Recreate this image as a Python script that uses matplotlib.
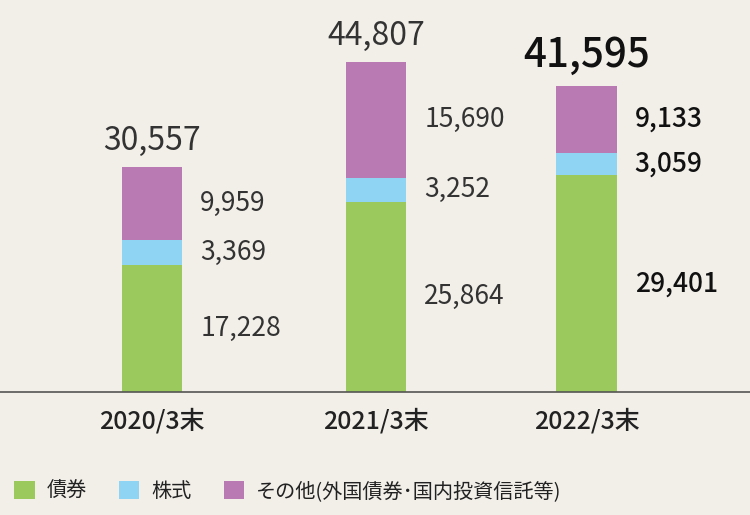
import matplotlib

matplotlib.use("Agg")
import matplotlib.pyplot as plt
from matplotlib.patches import Patch

plt.rcParams["font.family"] = ["Noto Sans CJK JP", "DejaVu Sans"]

# --- data ---
categories = ["2020/3末", "2021/3末", "2022/3末"]
bonds = [17228, 25864, 29401]
stocks = [3369, 3252, 3059]
others = [9959, 15690, 9133]
totals = [30557, 44807, 41595]
series_names = ["債券", "株式", "その他(外国債券･国内投資信託等)"]

BG = "#f2efe9"
COLORS = ["#9cc95e", "#8fd4f2", "#b97ab3"]
TEXT = "#333333"

xpos = [0, 1, 1.94]
width = 0.27

fig = plt.figure(figsize=(7.5, 5.15), dpi=100, facecolor=BG)
ax = fig.add_axes([0, 1 - 392 / 515, 1, 392 / 515], facecolor=BG)

bottom = [0, 0, 0]
for vals, col in zip([bonds, stocks, others], COLORS):
    ax.bar(xpos, vals, width, bottom=bottom, color=col, edgecolor="none")
    for i, v in enumerate(vals):
        last = i == len(vals) - 1
        ax.text(xpos[i] + width / 2 + 0.08, bottom[i] + v / 2, f"{v:,}",
                ha="left", va="center", fontsize=19,
                color="#111111" if last else TEXT,
                fontweight="medium" if last else "normal")
    bottom = [b + v for b, v in zip(bottom, vals)]

for i, t in enumerate(totals):
    last = i == len(totals) - 1
    ax.text(xpos[i], t + 1400, f"{t:,}", ha="center", va="bottom",
            fontsize=29 if last else 23, color="#111111" if last else TEXT,
            fontweight="medium" if last else "normal")

ax.set_xlim(-152 / 224, (750 - 152) / 224)
ax.set_ylim(0, 392 / 0.007365)
for s in ["top", "right", "left"]:
    ax.spines[s].set_visible(False)
ax.spines["bottom"].set_color("#555555")
ax.spines["bottom"].set_linewidth(1.2)
ax.set_yticks([])
ax.set_xticks(xpos)
ax.set_xticklabels(categories, fontsize=18, fontweight="medium", color="#222222")
ax.tick_params(axis="x", length=0, pad=12)

handles = [Patch(facecolor=c, edgecolor="none") for c in COLORS]
fig.legend(handles, series_names, loc="lower left", bbox_to_anchor=(-0.005, -0.01),
           ncol=3, frameon=False, fontsize=14.5, handlelength=1.0, handleheight=1.0,
           handletextpad=0.6, columnspacing=1.6, labelcolor="#222222")

fig.savefig("out.png", dpi=100, facecolor=BG)
